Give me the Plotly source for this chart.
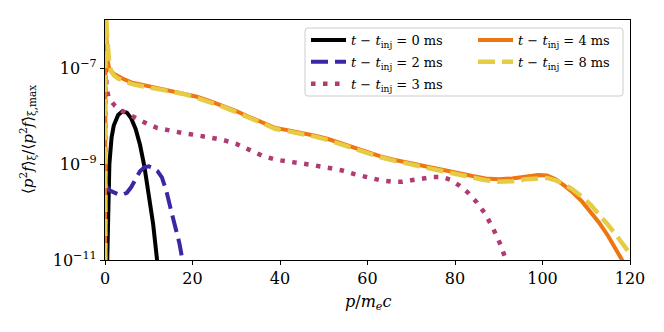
import plotly.graph_objects as go

# ---- data (y stored as log10 of normalised <p^2 f>) ----
p_t0 = [0.5, 0.7, 1.0, 1.5, 2, 3, 4, 5, 6, 7, 8, 9, 10, 11, 11.9, 12.1]
y_t0 = [-11.05, -10.0, -9.0, -8.45, -8.2, -7.98, -7.9, -7.93, -8.05, -8.27, -8.6, -9.05, -9.6, -10.25, -11.0, -11.15]

p_t2 = [0.05, 0.2, 1, 2, 3, 4, 5, 6, 7, 8, 9, 10, 11, 12, 13, 14, 15, 16, 17, 17.8]
y_t2 = [-12, -9.45, -9.55, -9.6, -9.63, -9.64, -9.6, -9.48, -9.3, -9.15, -9.07, -9.05, -9.08, -9.15, -9.28, -9.55, -9.93, -10.3, -10.65, -11.05]

p_t3 = [0.02, 0.15, 0.4, 0.8, 1.5, 2.3, 4, 6, 8, 10, 12, 15, 18, 21, 24, 27, 30, 33, 36, 39, 42, 45, 48, 51, 54,
        57, 60, 63, 66, 68, 70, 72, 75, 77, 79, 81, 83, 85, 87, 89, 90.5, 91.8]
y_t3 = [-12, -7.0, -7.45, -7.6, -7.7, -7.79, -7.9, -8.0, -8.1, -8.18, -8.25, -8.31, -8.36, -8.4, -8.45, -8.5, -8.58,
        -8.7, -8.83, -8.91, -8.96, -8.99, -9.03, -9.07, -9.13, -9.21, -9.28, -9.34, -9.37, -9.37, -9.34, -9.31,
        -9.27, -9.27, -9.33, -9.45, -9.6, -9.8, -10.05, -10.4, -10.7, -11.05]

p_t4 = [0.02, 0.1, 0.3, 0.6, 1.0, 2, 3, 4, 6, 8, 10, 12, 15, 18, 21, 24, 27, 30, 33, 36, 39, 42, 45, 48, 51, 54, 57,
        60, 63, 66, 69, 72, 75, 78, 81, 84, 87, 90, 93, 96, 99, 101, 103, 105, 107, 109, 111, 113, 115, 117, 118.5]
y_t4 = [-12, -5.5, -6.3, -6.85, -7.03, -7.12, -7.18, -7.22, -7.3, -7.34, -7.37, -7.4, -7.46, -7.52, -7.6, -7.69,
        -7.79, -7.9, -8.02, -8.14, -8.25, -8.3, -8.35, -8.41, -8.48, -8.57, -8.67, -8.76, -8.84, -8.91, -8.97,
        -9.02, -9.07, -9.13, -9.19, -9.25, -9.3, -9.32, -9.3, -9.26, -9.23, -9.24, -9.32, -9.45, -9.6, -9.78,
        -10.0, -10.23, -10.5, -10.8, -11.05]

p_t8 = [0.02, 0.12, 0.4, 0.7, 1.0, 1.5, 2, 3, 4, 6, 8, 10, 12, 15, 18, 21, 24, 27, 30, 33, 36, 39, 42, 45, 48, 51,
        54, 57, 60, 63, 66, 69, 72, 75, 78, 81, 84, 87, 90, 93, 96, 99, 101, 103, 105, 107, 109, 111, 113, 115,
        117, 119, 120]
y_t8 = [-12, -5.5, -6.2, -6.7, -6.95, -7.08, -7.15, -7.22, -7.26, -7.33, -7.37, -7.4, -7.43, -7.48, -7.54, -7.62,
        -7.71, -7.81, -7.92, -8.04, -8.16, -8.27, -8.32, -8.37, -8.43, -8.5, -8.59, -8.69, -8.78, -8.86, -8.93,
        -8.99, -9.04, -9.09, -9.15, -9.21, -9.28, -9.34, -9.37, -9.36, -9.32, -9.29, -9.29, -9.34, -9.42, -9.54,
        -9.68, -9.85, -10.05, -10.27, -10.5, -10.75, -10.87]

labels = ["0", "2", "3", "4", "8"]
y_tickvals = [-11, -9, -7]
y_ticktext = ["10<sup>−11</sup>", "10<sup>−9</sup>", "10<sup>−7</sup>"]
x_tickvals = [0, 20, 40, 60, 80, 100, 120]

FONT = "DejaVu Serif"

def lab(t):
    return "<i>t</i> − <i>t</i><sub>inj</sub> = %s ms" % t

series = [
    (p_t0, y_t0, labels[0], "#000000", "solid", 4, "legend"),
    (p_t2, y_t2, labels[1], "#3b27a6", "17px,7px", 4, "legend"),
    (p_t3, y_t3, labels[2], "#b03a72", "4.5px,7.5px", 4.5, "legend"),
    (p_t4, y_t4, labels[3], "#ef7510", "solid", 4, "legend2"),
    (p_t8, y_t8, labels[4], "#e6cc45", "17px,7px", 4.5, "legend2"),
]

fig = go.Figure()
for i, (x, y, t, c, d, w, lg) in enumerate(series):
    fig.add_trace(go.Scatter(x=x, y=y, mode="lines", name=lab(t),
                             line=dict(color=c, dash=d, width=w),
                             legend=lg, legendgroup="g%d" % i))

# page body has an 8px margin: figure is 656x324 placed at (8,8)
OFF = 8
W, H = 656, 324
L, R, T, B = 97, 34, 12, 72
pw, ph = W - L - R, H - T - B

def px(xp):
    return (xp - OFF - L) / pw

def py(yp):
    return (H - B - (yp - OFF)) / ph

# legend frame (rounded)
x0, x1, y0, y1 = px(305), px(623), py(96), py(28)
dx, dy = 3 / pw, 3 / ph
path = (f"M {x0+dx},{y0} L {x1-dx},{y0} Q {x1},{y0} {x1},{y0+dy} L {x1},{y1-dy} Q {x1},{y1} {x1-dx},{y1} "
        f"L {x0+dx},{y1} Q {x0},{y1} {x0},{y1-dy} L {x0},{y0+dy} Q {x0},{y0} {x0+dx},{y0} Z")
fig.add_shape(type="path", path=path, xref="paper", yref="paper",
              line=dict(color="#cccccc", width=1), fillcolor="rgba(255,255,255,0.85)", layer="above")

axis_common = dict(showline=True, linecolor="black", linewidth=1.2, mirror=True,
                   ticks="outside", ticklen=4, tickwidth=1, tickcolor="black",
                   showgrid=False, zeroline=False, automargin=False,
                   tickfont=dict(family=FONT, size=16, color="black"))

fig.update_layout(
    width=W, height=H,
    margin=dict(l=L, r=R, t=T, b=B),
    plot_bgcolor="white", paper_bgcolor="white",
    font=dict(family=FONT, color="black"),
    xaxis=dict(range=[0, 120], tickvals=x_tickvals, **axis_common),
    yaxis=dict(range=[-11, -6], tickvals=y_tickvals, ticktext=y_ticktext, **axis_common),
    legend=dict(x=px(306), y=py(25), xanchor="left", yanchor="top", bgcolor="rgba(0,0,0,0)",
                borderwidth=0, font=dict(family=FONT, size=13), tracegroupgap=2, itemwidth=35),
    legend2=dict(x=px(473), y=py(25), xanchor="left", yanchor="top", bgcolor="rgba(0,0,0,0)",
                 borderwidth=0, font=dict(family=FONT, size=13), tracegroupgap=2, itemwidth=35),
    annotations=[
        dict(text="<i>p</i>/<i>m</i><sub><i>e</i></sub><i>c</i>", xref="paper", yref="paper",
             x=0.5, y=py(302), xanchor="center", yanchor="middle", showarrow=False,
             font=dict(family=FONT, size=16)),
        dict(text="⟨<i>p</i><sup>2</sup><i>f</i>⟩<sub>ξ</sub>/⟨<i>p</i><sup>2</sup><i>f</i>⟩<sub>ξ,max</sub>",
             xref="paper", yref="paper", x=px(27), y=0.5, xanchor="center", yanchor="middle",
             textangle=-90, showarrow=False, font=dict(family=FONT, size=15)),
    ],
)

fig.write_html("out.html")
